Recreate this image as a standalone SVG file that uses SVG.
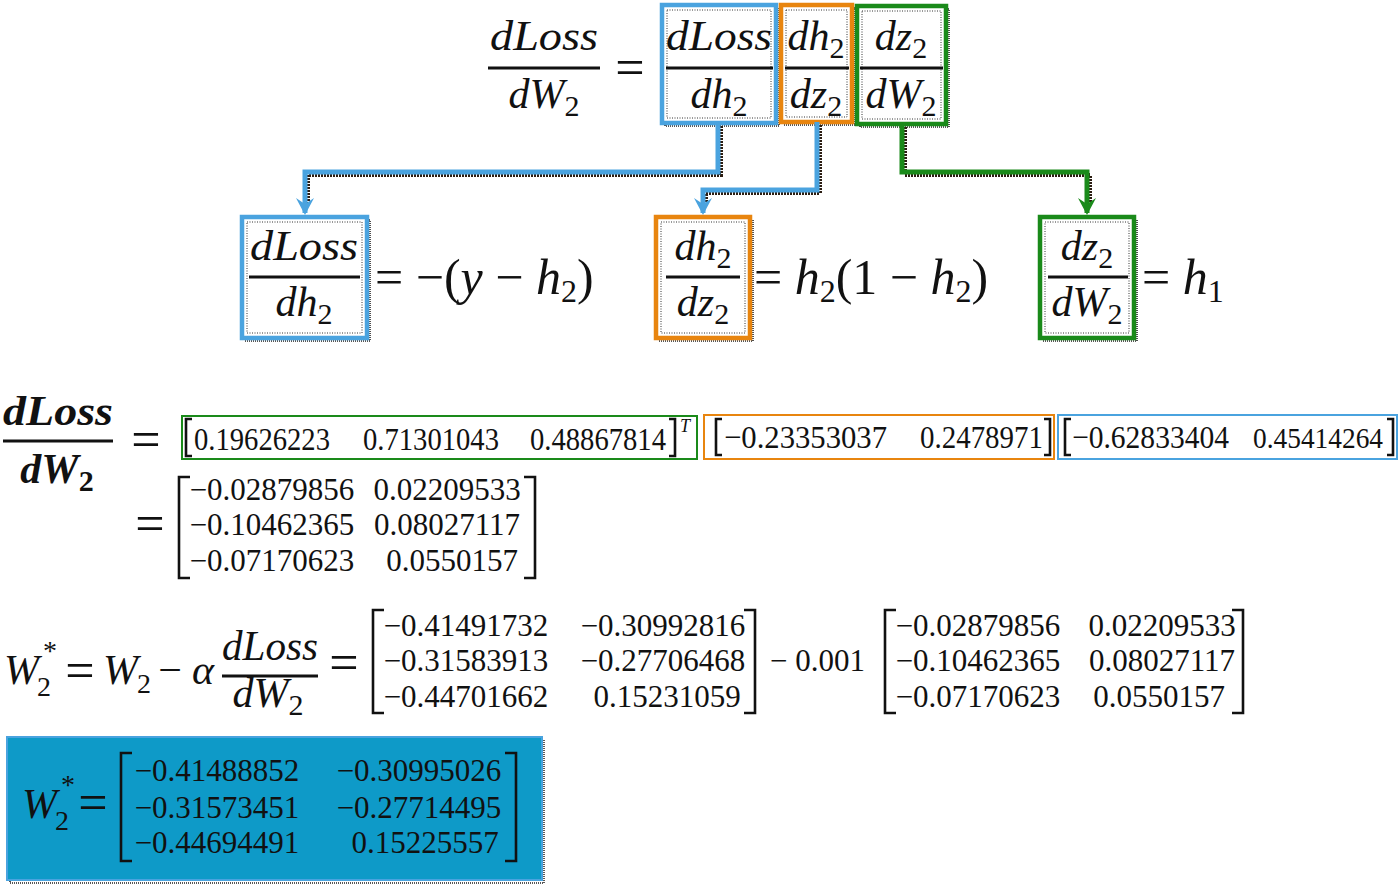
<svg xmlns="http://www.w3.org/2000/svg" width="1400" height="889" viewBox="0 0 1400 889">
<style>
text{font-family:"Liberation Serif","DejaVu Serif",serif;fill:#111;}
.f{font-size:42px;font-style:italic;}
.m{font-size:42px;}
.x{font-size:50px;}
.eq{font-size:52px;}
.n{font-size:31px;}
.nv{font-size:32px;}
.i{font-style:italic;}
.r{font-style:normal;}
.bar{stroke:#111;stroke-width:3;}
.br{fill:none;stroke:#111;stroke-width:2.6;}
.box{fill:#fff;stroke-width:4.5;}
.inner{fill:none;stroke:#333;stroke-width:1;stroke-dasharray:1 1.5;}
.shadow{fill:none;stroke:#222;stroke-width:1.6;stroke-dasharray:1 1;}
.blue{stroke:#4aa3df;}
.orange{stroke:#e8850f;}
.green{stroke:#1a8a1a;}
.conn{fill:none;stroke-width:5;stroke-linejoin:miter;}
.cshadow{fill:none;stroke:#2b1d12;stroke-width:4;stroke-dasharray:2 1;}
.vbox{fill:#fff;stroke-width:2;}
</style>
<defs>
<marker id="ab" markerUnits="userSpaceOnUse" markerWidth="20" markerHeight="20" refX="15" refY="9" orient="auto">
<path d="M0,0 L17,9 L0,18 L6,9 z" fill="#4aa3df"/>
</marker>
<marker id="ag" markerUnits="userSpaceOnUse" markerWidth="20" markerHeight="20" refX="15" refY="9" orient="auto">
<path d="M0,0 L17,9 L0,18 L6,9 z" fill="#1a8a1a"/>
</marker>
</defs>
<rect width="1400" height="889" fill="#fff"/>

<!-- top equation -->
<g id="top-lhs">
<text x="544" y="50" class="f" text-anchor="middle" textLength="108" lengthAdjust="spacingAndGlyphs">dLoss</text>
<line x1="488" y1="68" x2="600" y2="68" class="bar"/>
<text x="544" y="108" class="f" text-anchor="middle">dW<tspan class="r" font-size="30" dy="8">2</tspan></text>
<text x="630" y="85" class="eq" text-anchor="middle">=</text>
</g>

<g id="top-dloss-dh2">
<rect x="665" y="8" width="114" height="118" class="shadow"/>
<rect x="662" y="5" width="114" height="118" class="box blue"/>
<rect x="667" y="10" width="104" height="108" class="inner"/>
<text x="719" y="50" class="f" text-anchor="middle" textLength="106" lengthAdjust="spacingAndGlyphs">dLoss</text>
<line x1="666" y1="68" x2="773" y2="68" class="bar"/>
<text x="719" y="108" class="f" text-anchor="middle">dh<tspan class="r" font-size="30" dy="8">2</tspan></text>
</g>

<g id="top-dh2-dz2">
<rect x="784" y="8" width="71" height="117" class="shadow"/>
<rect x="781" y="5" width="71" height="117" class="box orange"/>
<rect x="786" y="10" width="61" height="107" class="inner"/>
<text x="816" y="50" class="f" text-anchor="middle">dh<tspan class="r" font-size="30" dy="8">2</tspan></text>
<line x1="785" y1="68" x2="849" y2="68" class="bar"/>
<text x="816" y="108" class="f" text-anchor="middle">dz<tspan class="r" font-size="30" dy="8">2</tspan></text>
</g>

<g id="top-dz2-dW2">
<rect x="860" y="9" width="89" height="118" class="shadow"/>
<rect x="857" y="6" width="89" height="118" class="box green"/>
<rect x="862" y="11" width="79" height="108" class="inner"/>
<text x="901" y="50" class="f" text-anchor="middle">dz<tspan class="r" font-size="30" dy="8">2</tspan></text>
<line x1="860" y1="68" x2="943" y2="68" class="bar"/>
<text x="901" y="108" class="f" text-anchor="middle">dW<tspan class="r" font-size="30" dy="8">2</tspan></text>
</g>

<!-- connectors -->
<g id="connectors">
<polyline points="721,126 721,175 308,175 308,205" class="cshadow"/>
<polyline points="718,123 718,172 305,172 305,213" class="conn blue" marker-end="url(#ab)"/>
<polyline points="820,125 820,193 706,193 706,205" class="cshadow"/>
<polyline points="817,122 817,190 703,190 703,213" class="conn blue" marker-end="url(#ab)"/>
<polyline points="905,127 905,175 1090,175 1090,205" class="cshadow"/>
<polyline points="902,124 902,172 1087,172 1087,213" class="conn green" marker-end="url(#ag)"/>
</g>

<!-- middle row -->
<g id="mid-dloss-dh2">
<rect x="245" y="220" width="125" height="121" class="shadow"/>
<rect x="242" y="217" width="125" height="121" class="box blue"/>
<rect x="247" y="222" width="115" height="111" class="inner"/>
<text x="304" y="260" class="f" text-anchor="middle" textLength="108" lengthAdjust="spacingAndGlyphs">dLoss</text>
<line x1="249" y1="277" x2="360" y2="277" class="bar"/>
<text x="304" y="316" class="f" text-anchor="middle">dh<tspan class="r" font-size="30" dy="8">2</tspan></text>
<text x="375" y="294" class="x">= −(<tspan class="i">y</tspan> − <tspan class="i">h</tspan><tspan font-size="32" dy="8">2</tspan><tspan dy="-8">)</tspan></text>
</g>

<g id="mid-dh2-dz2">
<rect x="659" y="220" width="94" height="121" class="shadow"/>
<rect x="656" y="217" width="94" height="121" class="box orange"/>
<rect x="661" y="222" width="84" height="111" class="inner"/>
<text x="703" y="260" class="f" text-anchor="middle">dh<tspan class="r" font-size="30" dy="8">2</tspan></text>
<line x1="666" y1="277" x2="740" y2="277" class="bar"/>
<text x="703" y="316" class="f" text-anchor="middle">dz<tspan class="r" font-size="30" dy="8">2</tspan></text>
<text x="754" y="294" class="x">= <tspan class="i">h</tspan><tspan font-size="32" dy="8">2</tspan><tspan dy="-8">(1 − </tspan><tspan class="i">h</tspan><tspan font-size="32" dy="8">2</tspan><tspan dy="-8">)</tspan></text>
</g>

<g id="mid-dz2-dW2">
<rect x="1043" y="220" width="94" height="121" class="shadow"/>
<rect x="1040" y="217" width="94" height="121" class="box green"/>
<rect x="1045" y="222" width="84" height="111" class="inner"/>
<text x="1087" y="260" class="f" text-anchor="middle">dz<tspan class="r" font-size="30" dy="8">2</tspan></text>
<line x1="1048" y1="277" x2="1128" y2="277" class="bar"/>
<text x="1087" y="316" class="f" text-anchor="middle">dW<tspan class="r" font-size="30" dy="8">2</tspan></text>
<text x="1142" y="294" class="x">= <tspan class="i">h</tspan><tspan font-size="32" dy="8">1</tspan></text>
</g>

<!-- row 3: gradient computation -->
<g id="grad-lhs">
<text x="58" y="425" class="f" text-anchor="middle" textLength="110" lengthAdjust="spacingAndGlyphs" font-weight="bold">dLoss</text>
<line x1="3" y1="441" x2="113" y2="441" class="bar"/>
<text x="57" y="483" class="f" text-anchor="middle" font-weight="bold">dW<tspan class="r" font-size="30" dy="8">2</tspan></text>
<text x="146" y="457" class="eq" text-anchor="middle">=</text>
</g>

<g id="vec-h1">
<rect x="182" y="416" width="515" height="43" class="vbox green"/>
<path d="M192,419 L186,419 L186,456 L192,456" class="br"/>
<text x="194" y="450" class="nv" textLength="136" lengthAdjust="spacingAndGlyphs">0.19626223</text>
<text x="363" y="450" class="nv" textLength="136" lengthAdjust="spacingAndGlyphs">0.71301043</text>
<text x="530" y="450" class="nv" textLength="136" lengthAdjust="spacingAndGlyphs">0.48867814</text>
<path d="M669,419 L675,419 L675,456 L669,456" class="br"/>
<text x="680" y="432" font-size="18" class="i">T</text>
</g>

<g id="vec-dh2dz2">
<rect x="704" y="415" width="350" height="44" class="vbox orange"/>
<path d="M722,419 L716,419 L716,455 L722,455" class="br"/>
<text x="724" y="448" class="nv" textLength="163" lengthAdjust="spacingAndGlyphs">−0.23353037</text>
<text x="920" y="448" class="nv" textLength="123" lengthAdjust="spacingAndGlyphs">0.2478971</text>
<path d="M1044,419 L1050,419 L1050,455 L1044,455" class="br"/>
</g>

<g id="vec-dloss">
<rect x="1058" y="415" width="339" height="44" class="vbox blue"/>
<path d="M1071,419 L1065,419 L1065,455 L1071,455" class="br"/>
<text x="1072" y="448" class="nv" textLength="157" lengthAdjust="spacingAndGlyphs">−0.62833404</text>
<text x="1253" y="448" font-size="29" textLength="130" lengthAdjust="spacingAndGlyphs">0.45414264</text>
<path d="M1387,419 L1393,419 L1393,455 L1387,455" class="br"/>
</g>

<g id="grad-result">
<text x="150" y="541" class="eq" text-anchor="middle" font-size="44">=</text>
<path d="M190,477 L179,477 L179,578 L190,578" class="br"/>
<path d="M524,477 L535,477 L535,578 L524,578" class="br"/>
<g text-anchor="middle">
<text x="272" y="500" class="n">−0.02879856</text>
<text x="447" y="500" class="n">0.02209533</text>
<text x="272" y="535" class="n">−0.10462365</text>
<text x="447" y="535" class="n">0.08027117</text>
<text x="272" y="571" class="n">−0.07170623</text>
<text x="452" y="571" class="n">0.0550157</text>
</g>
</g>

<!-- row 4: update -->
<g id="update-eq">
<text x="4" y="684" class="f">W</text>
<text x="37" y="696" font-size="28">2</text>
<text x="43" y="660" font-size="28">*</text>
<text x="80" y="688" class="eq" text-anchor="middle" font-size="46">=</text>
<text x="103" y="684" class="f">W</text>
<text x="137" y="693" font-size="28">2</text>
<text x="170" y="684" class="m" text-anchor="middle">−</text>
<text x="192" y="684" class="f">α</text>
<text x="270" y="660" class="f" text-anchor="middle" textLength="96" lengthAdjust="spacingAndGlyphs">dLoss</text>
<line x1="222" y1="676" x2="318" y2="676" class="bar"/>
<text x="268" y="707" class="f" text-anchor="middle">dW<tspan class="r" font-size="30" dy="8">2</tspan></text>
<text x="344" y="680" class="eq" text-anchor="middle" font-size="46">=</text>
</g>

<g id="matrix-W2">
<path d="M384,610 L373,610 L373,713 L384,713" class="br"/>
<path d="M744,610 L755,610 L755,713 L744,713" class="br"/>
<g text-anchor="middle">
<text x="466" y="636" class="n">−0.41491732</text>
<text x="663" y="636" class="n">−0.30992816</text>
<text x="466" y="671" class="n">−0.31583913</text>
<text x="663" y="671" class="n">−0.27706468</text>
<text x="466" y="707" class="n">−0.44701662</text>
<text x="667" y="707" class="n">0.15231059</text>
</g>
</g>

<g id="lr">
<text x="770" y="671" class="n">− 0.001</text>
</g>

<g id="matrix-grad">
<path d="M896,610 L885,610 L885,713 L896,713" class="br"/>
<path d="M1232,610 L1243,610 L1243,713 L1232,713" class="br"/>
<g text-anchor="middle">
<text x="978" y="636" class="n">−0.02879856</text>
<text x="1162" y="636" class="n">0.02209533</text>
<text x="978" y="671" class="n">−0.10462365</text>
<text x="1162" y="671" class="n">0.08027117</text>
<text x="978" y="707" class="n">−0.07170623</text>
<text x="1159" y="707" class="n">0.0550157</text>
</g>
</g>

<!-- row 5: result -->
<g id="result">
<rect x="10" y="740" width="534" height="143" fill="none" stroke="#222" stroke-width="1.5" stroke-dasharray="1 1"/>
<rect x="7" y="737" width="535" height="143" fill="#0e9ac8" stroke="#4aa3df" stroke-width="2"/>
<text x="22" y="818" class="f">W</text>
<text x="55" y="830" font-size="28">2</text>
<text x="61" y="794" font-size="28">*</text>
<text x="93" y="820" class="eq" text-anchor="middle" font-size="44">=</text>
<path d="M132,753 L121,753 L121,861 L132,861" class="br"/>
<path d="M505,753 L516,753 L516,861 L505,861" class="br"/>
<g text-anchor="middle">
<text x="217" y="781" class="n">−0.41488852</text>
<text x="419" y="781" class="n">−0.30995026</text>
<text x="217" y="818" class="n">−0.31573451</text>
<text x="419" y="818" class="n">−0.27714495</text>
<text x="217" y="853" class="n">−0.44694491</text>
<text x="425" y="853" class="n">0.15225557</text>
</g>
</g>
</svg>
